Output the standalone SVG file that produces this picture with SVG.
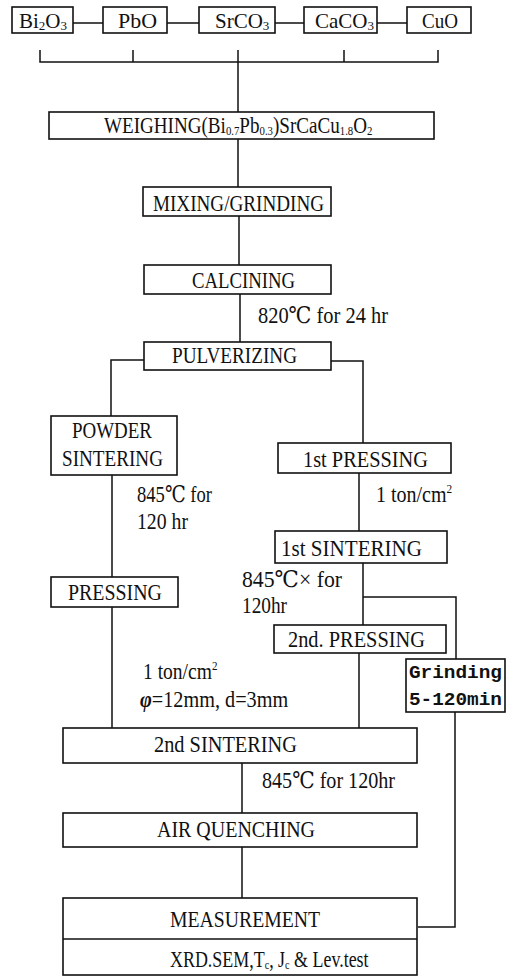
<svg xmlns="http://www.w3.org/2000/svg" width="513" height="978" viewBox="0 0 513 978">
<style>
.bx{fill:#fff;stroke:#111;stroke-width:1.6}
.ln{fill:none;stroke:#111;stroke-width:1.5}
text{font-family:"Liberation Serif","DejaVu Serif",serif;fill:#111;font-size:23px}
.t{font-size:21px}
.s{font-size:13px}
.g{font-family:"Liberation Mono","DejaVu Sans Mono",monospace;font-weight:bold;font-size:18px}
</style>
<rect width="513" height="978" fill="#fff"/>
<g id="connectors">
<path class="ln" d="M73,23H103M167,23H199M275,23H304M377,23H407"/>
<path class="ln" d="M40,50V62H438V50M133,50V62M344,50V62M238,50V112"/>
<path class="ln" d="M238,139V187M239,216V265M240,294V342"/>
<path class="ln" d="M144,360H111V416M331,361H363V443"/>
<path class="ln" d="M112,475V577M359,473V531M363,563V625M363,597H456V659"/>
<path class="ln" d="M112,607V728M359,653V728M242,763V813M242,847V898"/>
<path class="ln" d="M455,712V927H418"/>
</g>
<g id="n-bi2o3"><rect class="bx" x="12" y="7" width="61" height="26"/><text class="t" x="19" y="28">Bi<tspan class="s" dy="2">2</tspan><tspan dy="-2">O</tspan><tspan class="s" dy="2">3</tspan></text></g>
<g id="n-pbo"><rect class="bx" x="103" y="7" width="64" height="26"/><text class="t" x="118" y="28" textLength="39" lengthAdjust="spacingAndGlyphs">PbO</text></g>
<g id="n-srco3"><rect class="bx" x="199" y="7" width="76" height="26"/><text class="t" x="215" y="28">SrCO<tspan class="s" dy="2">3</tspan></text></g>
<g id="n-caco3"><rect class="bx" x="304" y="7" width="73" height="26"/><text class="t" x="315" y="28">CaCO<tspan class="s" dy="2">3</tspan></text></g>
<g id="n-cuo"><rect class="bx" x="407" y="7" width="64" height="26"/><text class="t" x="422" y="28" textLength="36" lengthAdjust="spacingAndGlyphs">CuO</text></g>
<g id="n-weighing"><rect class="bx" x="49" y="112" width="385" height="27"/><text transform="translate(104,133) scale(0.83,1)">WEIGHING(Bi<tspan class="s" dy="2">0.7</tspan><tspan dy="-2">Pb</tspan><tspan class="s" dy="2">0.3</tspan><tspan dy="-2">)SrCaCu</tspan><tspan class="s" dy="2">1.8</tspan><tspan dy="-2">O</tspan><tspan class="s" dy="2">2</tspan></text></g>
<g id="n-mixing"><rect class="bx" x="143" y="187" width="188" height="29"/><text x="153" y="211" textLength="171" lengthAdjust="spacingAndGlyphs">MIXING/GRINDING</text></g>
<g id="n-calcining"><rect class="bx" x="144" y="265" width="187" height="29"/><text x="192" y="288" textLength="103" lengthAdjust="spacingAndGlyphs">CALCINING</text></g>
<text x="258" y="323" textLength="130" lengthAdjust="spacingAndGlyphs">820℃  for  24  hr</text>
<g id="n-pulverizing"><rect class="bx" x="144" y="342" width="187" height="28"/><text x="172" y="363" textLength="125" lengthAdjust="spacingAndGlyphs">PULVERIZING</text></g>
<g id="n-powder"><rect class="bx" x="51" y="416" width="126" height="59"/><text x="72" y="438" textLength="80" lengthAdjust="spacingAndGlyphs">POWDER</text><text x="62" y="466" textLength="101" lengthAdjust="spacingAndGlyphs">SINTERING</text></g>
<text x="137" y="502" textLength="75" lengthAdjust="spacingAndGlyphs">845℃  for</text>
<text x="137" y="529" textLength="51" lengthAdjust="spacingAndGlyphs">120  hr</text>
<g id="n-1stpressing"><rect class="bx" x="278" y="443" width="173" height="30"/><text x="303" y="467" textLength="125" lengthAdjust="spacingAndGlyphs">1st PRESSING</text></g>
<text transform="translate(376,502) scale(0.87,1)">1  ton/cm<tspan class="s" dy="-9">2</tspan></text>
<g id="n-1stsintering"><rect class="bx" x="275" y="531" width="172" height="32"/><text x="281" y="556" textLength="141" lengthAdjust="spacingAndGlyphs">1st SINTERING</text></g>
<text x="242" y="587" textLength="100" lengthAdjust="spacingAndGlyphs">845℃×  for</text>
<text x="242" y="613" textLength="45" lengthAdjust="spacingAndGlyphs">120hr</text>
<g id="n-pressing"><rect class="bx" x="51" y="577" width="127" height="30"/><text x="68" y="600" textLength="94" lengthAdjust="spacingAndGlyphs">PRESSING</text></g>
<g id="n-2ndpressing"><rect class="bx" x="274" y="625" width="172" height="28"/><text x="288" y="647" textLength="137" lengthAdjust="spacingAndGlyphs">2nd. PRESSING</text></g>
<g id="n-grinding"><rect class="bx" x="406" y="659" width="99" height="53"/><text class="g" x="409" y="678" textLength="93" lengthAdjust="spacingAndGlyphs">Grinding</text><text class="g" x="409" y="705" textLength="93" lengthAdjust="spacingAndGlyphs">5-120min</text></g>
<text transform="translate(143,679) scale(0.85,1)">1  ton/cm<tspan class="s" dy="-9">2</tspan></text>
<text transform="translate(140,707) scale(0.88,1)"><tspan font-style="italic" font-weight="bold">φ</tspan>=12mm, d=3mm</text>
<g id="n-2ndsintering"><rect class="bx" x="63" y="728" width="354" height="35"/><text x="154" y="752" textLength="143" lengthAdjust="spacingAndGlyphs">2nd  SINTERING</text></g>
<text x="262" y="788" textLength="133" lengthAdjust="spacingAndGlyphs">845℃  for  120hr</text>
<g id="n-airquenching"><rect class="bx" x="63" y="813" width="354" height="34"/><text x="157" y="837" textLength="158" lengthAdjust="spacingAndGlyphs">AIR  QUENCHING</text></g>
<g id="n-measurement"><rect class="bx" x="63" y="898" width="354" height="77"/><line class="ln" x1="63" y1="939" x2="417" y2="939"/><text x="170" y="927" textLength="150" lengthAdjust="spacingAndGlyphs">MEASUREMENT</text><text transform="translate(170,967) scale(0.78,1)">XRD.SEM,T<tspan class="s" dy="2">c</tspan><tspan dy="-2">, J</tspan><tspan class="s" dy="2">c</tspan><tspan dy="-2"> &amp; Lev.test</tspan></text></g>
</svg>
